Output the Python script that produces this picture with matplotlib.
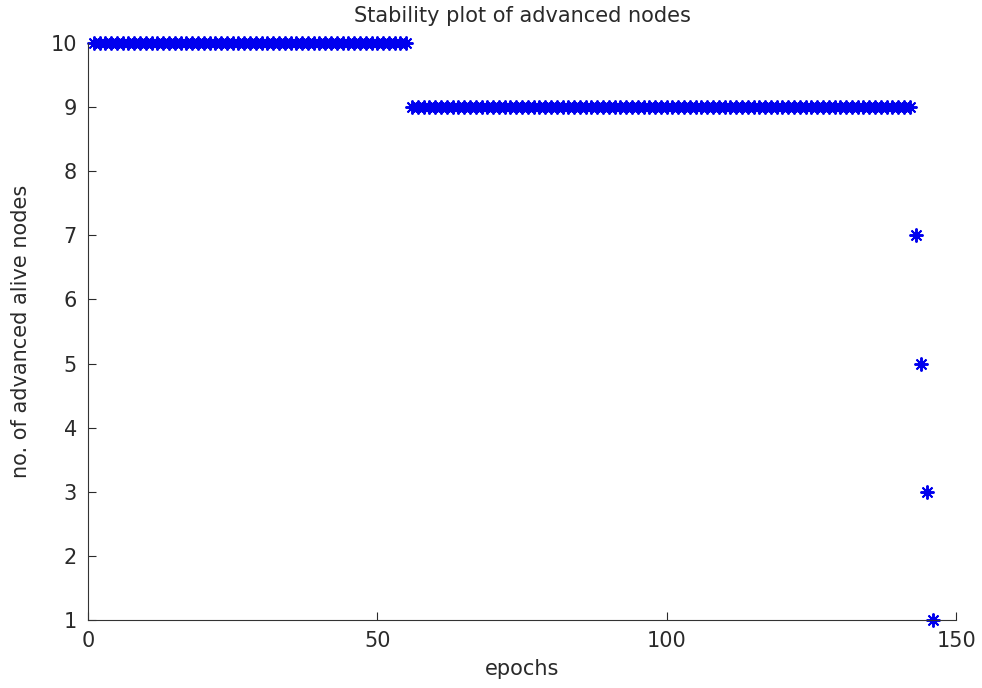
import matplotlib
matplotlib.use("Agg")
import matplotlib.pyplot as plt

# epochs at which the advanced-node count was recorded
epochs_10 = list(range(1, 56))
epochs_9 = list(range(56, 143))
epochs_tail = [143, 144, 145, 146]
alive_tail = [7, 5, 3, 1]

epochs = epochs_10 + epochs_9 + epochs_tail
alive = [10] * len(epochs_10) + [9] * len(epochs_9) + alive_tail

plt.rcParams['font.family'] = ['DejaVu Sans']

fig = plt.figure(figsize=(9.82, 6.88), dpi=100)
ax = fig.add_axes([0.0896, 0.0988, 0.884, 0.8387])

# MATLAB-style asterisk marker
ax.plot(epochs, alive, linestyle='none', marker=(8, 2, 0), color='#0000ee',
        markersize=10, markeredgewidth=1.4, clip_on=False)

ax.set_xlim(0, 150)
ax.set_ylim(1, 10)
ax.set_xticks([0, 50, 100, 150])
ax.set_yticks(range(1, 11))
ax.tick_params(direction='in', length=6, labelsize=15, colors='#2a2a2a', pad=8)

ax.spines['top'].set_visible(False)
ax.spines['right'].set_visible(False)
ax.spines['left'].set_color('#333333')
ax.spines['bottom'].set_color('#333333')

ax.set_xlabel("epochs", fontsize=15, color='#2a2a2a', labelpad=6)
ax.set_ylabel("no. of advanced alive nodes", fontsize=15, color='#2a2a2a', labelpad=14)
ax.set_title("Stability plot of advanced nodes", fontsize=15, color='#2a2a2a', pad=15)

fig.savefig("out.png", dpi=100)
